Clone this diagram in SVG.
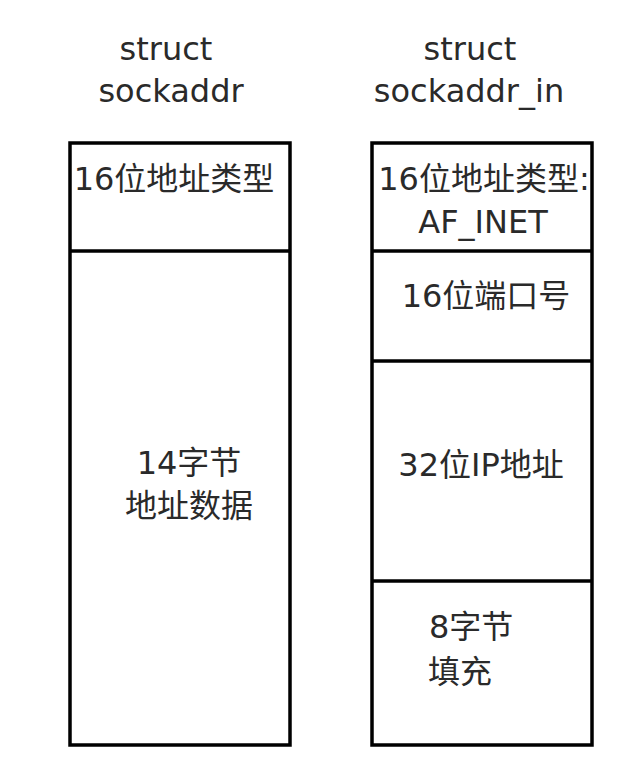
<svg xmlns="http://www.w3.org/2000/svg" width="644" height="775" viewBox="0 0 644 775">
<style>
.box{fill:#fff;stroke:#000;stroke-width:3.5}
.div{stroke:#000;stroke-width:3.5;fill:none}
text{font-family:"DejaVu Sans","Noto Sans CJK SC",sans-serif;font-size:32px;fill:#2a2a2a}
.m{text-anchor:middle}
</style>
<rect width="644" height="775" fill="#fff"/>
<g id="title-sockaddr">
<text class="m" x="166" y="60">struct</text>
<text class="m" x="171" y="102">sockaddr</text>
</g>
<g id="title-sockaddr_in">
<text class="m" x="470" y="60">struct</text>
<text class="m" x="469" y="102">sockaddr_in</text>
</g>
<g id="sockaddr">
<rect class="box" x="70" y="143" width="220" height="602"/>
<line class="div" x1="70" y1="251" x2="290" y2="251"/>
<text class="m" x="174" y="190">16位地址类型</text>
<text class="m" x="189" y="474">14字节</text>
<text class="m" x="189" y="517">地址数据</text>
</g>
<g id="sockaddr_in">
<rect class="box" x="372" y="143" width="220" height="602"/>
<line class="div" x1="372" y1="251" x2="592" y2="251"/>
<line class="div" x1="372" y1="361" x2="592" y2="361"/>
<line class="div" x1="372" y1="581" x2="592" y2="581"/>
<text class="m" x="484" y="190">16位地址类型:</text>
<text class="m" x="483" y="233">AF_INET</text>
<text class="m" x="486" y="307">16位端口号</text>
<text class="m" x="481" y="476">32位IP地址</text>
<text x="429" y="638">8字节</text>
<text x="428" y="683">填充</text>
</g>
</svg>
